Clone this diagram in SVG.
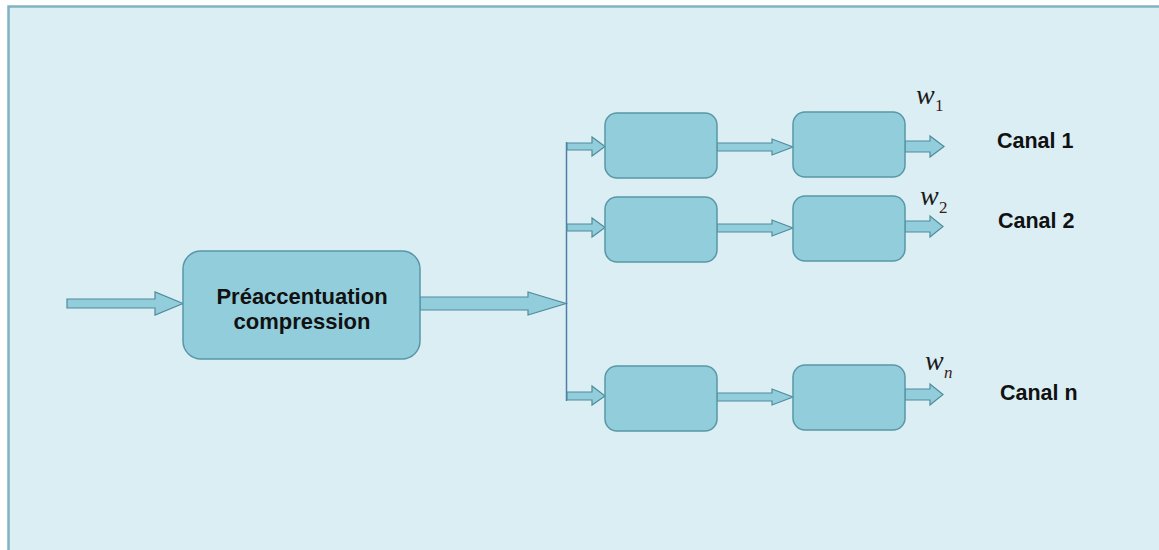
<svg xmlns="http://www.w3.org/2000/svg" width="1159" height="550" viewBox="0 0 1159 550">
  <style>
    .frame { fill: #DAEEF3; stroke: #7FB2C2; stroke-width: 2.5; }
    .box { fill: #92CDDC; stroke: #5A97A6; stroke-width: 1.5; }
    .arrow { fill: #92CDDC; stroke: #4F8C9C; stroke-width: 1.2; stroke-linejoin: miter; }
    .bus { fill: none; stroke: #4F7FA8; stroke-width: 1.5; }
    .label { font-family: "Liberation Sans", Arial, sans-serif; font-weight: bold; font-size: 22px; fill: #111; }
    .canal { font-size: 21.5px; }
    .w { font-family: "Liberation Serif", "Times New Roman", serif; font-style: italic; font-size: 28px; fill: #1a1a1a; }
    .sub { font-family: "Liberation Serif", "Times New Roman", serif; font-size: 17px; fill: #3a1a1a; }
    .it { font-style: italic; }
  </style>

  <!-- background panel -->
  <rect width="1159" height="550" fill="#FFFFFF"/>
  <rect class="frame" x="8.5" y="6.5" width="1160" height="560"/>

  <!-- connectors -->
  <g id="connectors">
    <!-- input -->
    <path class="arrow" d="M67,299 H155 V292 L183,303.5 L155,315 V308 H67 Z"/>
    <!-- main output to bus -->
    <path class="arrow" d="M420,297 H528 V292 L566,303.5 L528,315 V310 H420 Z"/>
    <!-- bus -->
    <line class="bus" x1="566.5" y1="142" x2="566.5" y2="401"/>
    <!-- branch arrows -->
    <path class="arrow" d="M567,143 H592 V137 L605,146.5 L592,156 V150 H567 Z"/>
    <path class="arrow" d="M567,224 H592 V218 L605,227.5 L592,237 V231 H567 Z"/>
    <path class="arrow" d="M567,392 H592 V386 L605,396 L592,405 V400 H567 Z"/>
    <!-- middle arrows -->
    <path class="arrow" d="M717,143 H772 V139 L793,147 L772,155 V151 H717 Z"/>
    <path class="arrow" d="M717,224 H772 V220 L793,228 L772,236 V232 H717 Z"/>
    <path class="arrow" d="M717,393 H772 V389 L793,397 L772,405 V401 H717 Z"/>
    <!-- channel outputs -->
    <path class="arrow" d="M905,141 H930 V136 L944,146.5 L930,157 V152 H905 Z"/>
    <path class="arrow" d="M905,221 H930 V216 L943,226.5 L930,237 V232 H905 Z"/>
    <path class="arrow" d="M905,389 H930 V384 L943,394.5 L930,405 V400 H905 Z"/>
  </g>

  <!-- pre-emphasis / compression stage -->
  <g id="preemphasis">
    <rect class="box" x="183" y="251" width="237" height="108" rx="18"/>
    <text class="label" x="302" y="304" text-anchor="middle">Préaccentuation</text>
    <text class="label" x="302" y="329" text-anchor="middle">compression</text>
  </g>

  <!-- channel 1 -->
  <g id="ch1-stage1"><rect class="box" x="605" y="113" width="112" height="65" rx="12"/></g>
  <g id="ch1-stage2"><rect class="box" x="793" y="112" width="112" height="65" rx="12"/></g>
  <g id="ch1-label">
    <text class="w" x="916" y="104">w</text><text class="sub" x="935" y="111">1</text>
    <text class="label canal" x="997" y="148">Canal 1</text>
  </g>

  <!-- channel 2 -->
  <g id="ch2-stage1"><rect class="box" x="605" y="197" width="112" height="65" rx="12"/></g>
  <g id="ch2-stage2"><rect class="box" x="793" y="196" width="112" height="65" rx="12"/></g>
  <g id="ch2-label">
    <text class="w" x="920" y="205">w</text><text class="sub" x="939" y="213">2</text>
    <text class="label canal" x="998" y="228">Canal 2</text>
  </g>

  <!-- channel n -->
  <g id="chn-stage1"><rect class="box" x="605" y="366" width="112" height="65" rx="12"/></g>
  <g id="chn-stage2"><rect class="box" x="793" y="365" width="112" height="65" rx="12"/></g>
  <g id="chn-label">
    <text class="w" x="925" y="370">w</text><text class="sub it" x="944" y="378">n</text>
    <text class="label canal" x="1000" y="400">Canal n</text>
  </g>
</svg>
